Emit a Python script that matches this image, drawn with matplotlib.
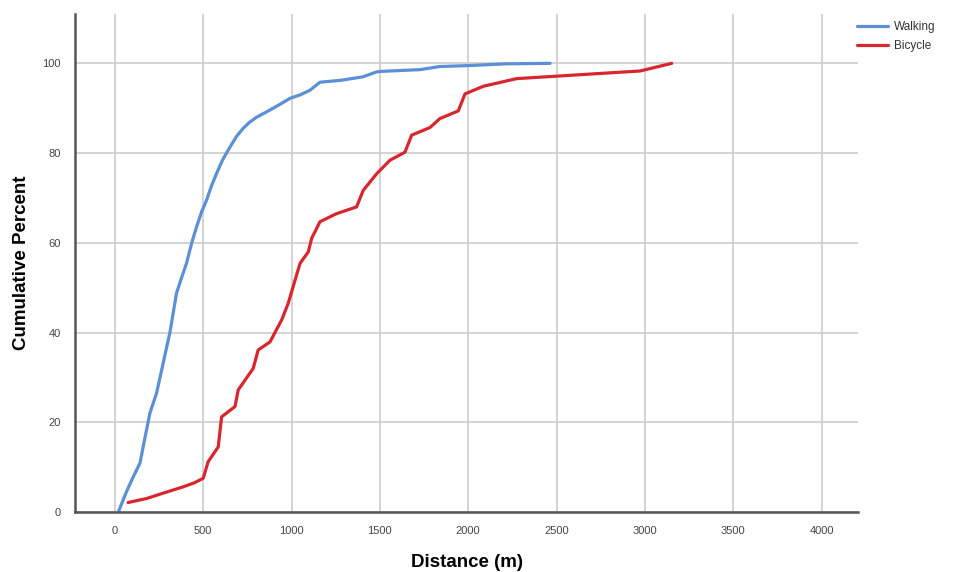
import matplotlib.pyplot as plt

# cumulative distance curves
walk_dist = [20, 60, 100, 142, 170, 198, 236, 275, 311, 349, 380, 406, 435, 462, 490,
             519, 545, 576, 610, 651, 690, 726, 760, 802, 850, 896, 940, 991, 1050,
             1104, 1161, 1274, 1404, 1482, 1500, 1727, 1840, 2000, 2218, 2463]
walk_pct = [0.0, 4.0, 7.5, 10.9, 16.5, 22.0, 26.5, 33.5, 39.9, 48.8, 52.5, 55.5,
            60.0, 63.5, 66.8, 69.5, 72.5, 75.5, 78.5, 81.3, 83.8, 85.5, 86.8, 88.0,
            89.0, 90.0, 91.0, 92.2, 93.0, 94.0, 95.8, 96.2, 97.0, 98.1, 98.2, 98.6,
            99.3, 99.5, 99.9, 100.0]

bike_dist = [75, 180, 274, 387, 450, 500, 528, 585, 604, 680, 698, 783, 811, 878,
             944, 981, 1048, 1095, 1114, 1161, 1255, 1368, 1406, 1482, 1557, 1642,
             1680, 1784, 1840, 1944, 1982, 2086, 2275, 2482, 2973, 3152]
bike_pct = [2.1, 3.0, 4.2, 5.6, 6.5, 7.5, 11.2, 14.5, 21.2, 23.5, 27.2, 32.0, 36.1,
            37.9, 42.8, 46.5, 55.4, 58.0, 61.0, 64.7, 66.5, 68.0, 71.7, 75.4, 78.4,
            80.2, 84.0, 85.7, 87.7, 89.4, 93.2, 94.9, 96.6, 97.1, 98.3, 100.0]

x_ticks = [0, 500, 1000, 1500, 2000, 2500, 3000, 3500, 4000]
y_ticks = [0, 20, 40, 60, 80, 100]

plt.rcParams['font.family'] = ['Liberation Sans', 'DejaVu Sans']

fig = plt.figure(figsize=(9.55, 5.72), dpi=100)
ax = fig.add_axes([0.0785, 0.105, 0.82, 0.8705])

ax.plot(walk_dist, walk_pct, color='#5b8fd6', lw=2.3, label='Walking',
        solid_capstyle='round', solid_joinstyle='round')
ax.plot(bike_dist, bike_pct, color='#d7262e', lw=2.3, label='Bicycle',
        solid_capstyle='round', solid_joinstyle='round')

ax.set_xlim(-226, 4207)
ax.set_ylim(0, 111)
ax.set_xticks(x_ticks)
ax.set_yticks(y_ticks)
ax.tick_params(length=0, labelsize=8, labelcolor='#444444', pad=10)
ax.grid(True, color='#d0d0d0', lw=1.3)
ax.set_axisbelow(True)

for side in ['top', 'right']:
    ax.spines[side].set_visible(False)
for side in ['left', 'bottom']:
    ax.spines[side].set_color('#555555')
    ax.spines[side].set_linewidth(1.8)

ax.set_xlabel('Distance (m)', fontsize=13.5, fontweight='bold')
ax.set_ylabel('Cumulative Percent', fontsize=13.5, fontweight='bold')
ax.xaxis.set_label_coords(0.5, -0.084)
ax.yaxis.set_label_coords(-0.058, 0.5)

ax.legend(loc='upper left', bbox_to_anchor=(0.993, 0.995), frameon=False, fontsize=8.5,
          handlelength=2.6, handletextpad=0.5, labelspacing=0.55, borderaxespad=0,
          labelcolor='#333333')

fig.savefig('out.png', dpi=100, facecolor='white')
